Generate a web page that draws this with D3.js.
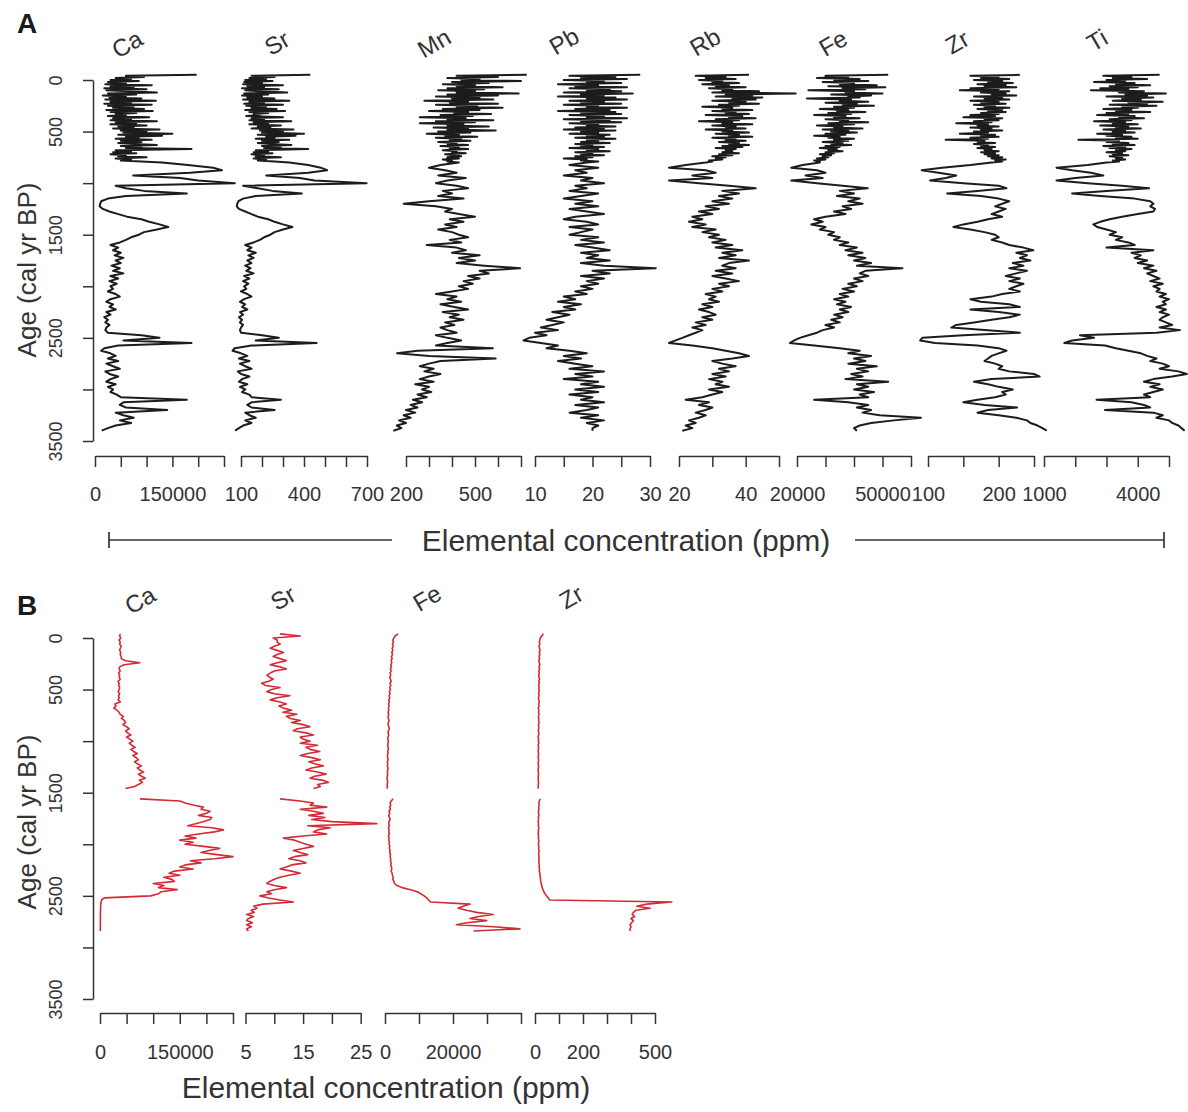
<!DOCTYPE html>
<html><head><meta charset="utf-8">
<script src="https://cdn.jsdelivr.net/npm/d3@7"></script>
<style>
body{margin:0;background:#fff}
text{font-family:"Liberation Sans",Arial,sans-serif;fill:#2a2a2a}
</style>
</head><body>
<svg id="chart" width="1188" height="1112"></svg>
<script>
// ---------------- DATA ----------------
const ageA=[-50,-40,-30,-20,-10,0,10,20,30,40,50,60,70,80,90,100,110,120,130,140,150,160,170,180,190,200,210,220,230,240,
250,260,270,280,290,300,310,320,330,340,350,360,370,380,390,400,410,420,430,440,450,460,470,480,490,500,510,520,530,540,
550,560,570,580,590,600,610,620,630,640,650,660,670,680,690,700,710,720,730,740,750,760,770,780,790,
800,825,850,875,900,925,950,975,1000,1025,1050,1075,1100,1125,1150,1175,1200,1225,1250,1275,1300,1325,1350,1375,1400,1425,1450,1475,1500,1525,
1550,1575,1600,1625,1650,1675,1700,1725,1750,1775,1800,1825,1850,1875,1900,1925,1950,1975,2000,2025,2050,2075,2100,2125,2150,2175,2200,2225,2250,2275,
2300,2325,2350,2375,2400,2425,2450,2475,2500,2525,2550,2575,2600,2625,2650,2675,2700,2725,2750,2775,2800,2825,2850,2875,2900,2925,2950,2975,3000,3025,
3050,3075,3100,3125,3150,3175,3200,3225,3250,3275,3300,3325,3350,3375,3400];

const caA=[197000,60000,95000,40000,70000,30000,85000,25000,60000,20000,
110000,30000,75000,18000,100000,22000,65000,120000,25000,80000,
15000,60000,28000,90000,20000,118000,30000,70000,18000,110000,
25000,75000,35000,95000,22000,112000,30000,80000,40000,60000,
25000,105000,35000,70000,30000,120000,40000,80000,30000,100000,
45000,75000,35000,125000,50000,100000,55000,150000,45000,130000,
60000,85000,40000,110000,50000,90000,45000,75000,120000,50000,
90000,60000,187000,40000,70000,35000,80000,30000,60000,45000,
100000,40000,70000,50000,90000,
130000,180000,229000,246000,184000,74000,165000,200000,271000,40000,
60000,95000,178000,60000,25000,12000,10000,9000,15000,28000,
45000,62000,90000,105000,125000,142000,120000,95000,85000,70000,
60000,48000,30000,45000,35000,50000,38000,55000,40000,50000,
32000,48000,35000,55000,30000,45000,28000,42000,30000,35000,
25000,40000,48000,30000,22000,35000,28000,40000,22000,30000,
18000,25000,20000,28000,22000,20000,25000,90000,125000,55000,
187000,45000,18000,12000,30000,40000,25000,45000,22000,35000,
48000,20000,28000,45000,30000,22000,40000,25000,35000,30000,
42000,50000,178000,55000,48000,60000,140000,40000,55000,75000,
48000,70000,40000,25000,13000];

const srA=[430,150,260,140,220,120,250,115,200,110,
300,130,210,105,280,120,190,320,115,230,
105,200,130,260,110,330,140,210,115,300,
125,220,150,270,120,310,140,230,160,190,
125,300,150,210,140,340,160,230,140,290,
180,240,150,350,190,300,200,400,180,360,
220,260,170,330,200,280,180,240,340,200,
290,210,420,170,230,160,250,150,210,170,
290,160,220,180,260,
330,420,480,510,420,220,380,450,698,110,
180,250,390,170,110,88,82,80,90,120,
150,180,230,260,300,345,300,260,240,210,
190,160,120,150,130,170,135,160,130,150,
120,145,125,160,115,140,110,135,115,125,
100,130,150,115,95,120,105,130,95,110,
90,105,95,110,100,95,100,200,280,170,
460,150,70,60,100,130,90,140,95,120,
150,85,100,140,105,90,130,95,120,105,
140,150,290,150,130,150,260,120,140,170,
120,150,110,90,72];

const mnA=[725,420,600,380,520,440,700,400,560,360,
500,420,620,380,540,340,500,420,690,380,
600,330,520,400,580,280,470,390,600,330,
510,420,620,360,520,300,470,410,570,350,
490,260,460,380,580,330,500,260,450,380,
560,320,470,380,590,340,480,290,430,370,
510,330,440,390,480,340,420,380,470,350,
430,390,470,360,420,400,460,370,410,440,
380,430,360,400,380,
430,350,300,370,420,340,460,380,330,420,
470,360,400,340,450,300,190,330,400,370,
430,500,390,450,370,420,340,400,430,470,
390,440,290,420,460,400,520,430,500,420,
540,696,520,560,470,520,450,490,430,470,
400,330,420,380,440,350,410,470,360,430,
390,450,370,410,350,380,420,330,380,440,
380,330,578,250,161,300,590,350,300,260,
320,280,350,300,260,320,240,300,270,310,
250,290,230,270,220,250,200,240,190,220,
170,200,160,180,145];

const pbA=[28.3,16,24,18,26,15,22,19,25,14,
21,17,26,16,23,19,25,15,27,18,
22,14,24,19,26,16,22,18,25,15,
21,19,26,17,23,14,24,18,25,16,
22,19,26,15,23,18,25,16,21,19,
24,17,22,15,24,18,21,16,23,19,
22,17,24,19,21,18,23,17,20,18,
22,16,21,19,23,17,20,18,22,17,
20,15,19,18,21,
19,16,21,17,19,15,20,18,22,17,
19,16,21,18,15,20,17,21,16,19,
22,17,15,19,21,16,20,18,16,21,
18,22,17,20,23,18,21,19,23,18,
22,31,20,23,18,22,19,21,18,20,
17,19,15,17,14,18,15,17,13,16,
14,12,15,13,11,14,10,12,9,8,
11,14,12,16,19,15,18,14,17,20,
16,22,17,20,15,21,18,22,17,21,
16,20,18,22,17,21,19,16,21,18,
22,19,21,20,20];

const rbA=[41,25,34,28,37,26,33,30,38,27,
35,31,40,29,36,33,44,30,55,34,
42,31,45,36,43,30,40,35,44,32,
38,27,36,33,42,30,37,34,41,28,
39,35,43,31,38,26,36,33,42,30,
37,34,40,28,36,33,41,31,38,35,
42,30,37,34,40,32,38,35,41,33,
39,31,37,34,36,33,38,32,36,30,
34,31,33,29,30,
28,22,17,28,31,24,30,17,26,35,
43,33,38,32,36,30,35,28,32,26,
30,24,27,23,28,24,31,27,32,29,
34,30,36,31,39,33,37,32,41,35,
33,37,31,36,30,34,38,32,35,30,
33,28,31,29,32,27,30,26,29,31,
27,30,25,28,24,27,25,23,21,19,
17,24,30,34,38,41,36,30,33,37,
32,35,30,34,29,33,31,35,29,33,
30,27,22,29,26,30,28,25,28,26,
23,25,22,24,21];

const feA=[52000,30000,38000,27000,42000,33000,45000,29000,40000,35000,
48000,31000,51000,36000,44000,24000,40000,37000,50000,32000,
46000,38000,42000,23500,39000,35000,45000,30000,41000,36000,
47000,33000,40000,28000,38000,34000,44000,31000,39000,26000,
37000,33000,42000,30000,38000,35000,45000,31000,40000,27000,
36000,33000,43000,29000,38000,32000,41000,30000,37000,26000,
35000,31000,40000,33000,38000,29000,36000,32000,39000,30000,
35000,28000,34000,31000,36000,30000,33000,28000,32000,29000,
31000,27000,30000,26000,28000,
28000,22000,18000,27000,30000,23000,29000,18000,27000,36000,
44800,35000,40000,34000,42000,38000,43000,36000,39000,33000,
37000,30000,26000,29000,25000,30000,28000,33000,31000,35000,
33000,38000,35000,41000,37000,43000,38000,44000,40000,46000,
41000,57000,44000,42000,45000,40000,43000,38000,41000,36000,
40000,35000,38000,33000,37000,34000,39000,35000,38000,33000,
36000,32000,35000,30000,33000,29000,27000,24000,21000,19000,
17500,26000,35000,42000,38000,46000,40000,44000,38000,48000,
41000,45000,39000,43000,37000,52000,41000,45000,40000,47000,
42000,45000,26000,38000,45000,41000,46000,43000,49000,63500,
54000,46000,42000,40000,41000];

const zrA=[230,160,200,175,215,165,205,185,220,170,
210,180,225,160,200,145,215,175,210,190,
225,165,205,180,215,160,200,175,210,165,
195,180,215,170,205,185,210,175,200,160,
195,150,205,180,200,165,190,140,185,170,
200,160,190,175,205,165,185,145,195,175,
200,160,185,125,180,170,195,165,185,175,
195,170,190,180,200,175,195,180,200,185,
205,190,210,195,205,
190,160,120,91,115,140,125,103,150,200,
211,170,127,175,200,215,205,195,210,200,
190,205,185,170,150,136,160,180,195,200,
190,205,215,235,249,225,240,230,245,220,
235,215,240,225,210,230,215,235,225,215,
230,205,190,160,175,215,230,160,200,230,
215,190,165,140,133,180,230,150,92,89,
110,170,200,211,200,190,185,180,195,205,
200,215,250,258,190,165,185,200,220,205,
210,195,170,150,180,226,185,170,200,225,
240,245,255,262,268];

const tiA=[4700,2900,3800,3200,4300,3000,3600,2600,3900,3300,
4400,3100,4000,2800,3700,2500,4200,3400,4900,3600,
4300,3000,4500,3500,4100,3200,4800,3700,4300,3100,
4600,3500,4000,2900,3800,3300,4400,3000,3700,2700,
3900,3400,4200,3100,3800,2600,3600,3200,4000,2800,
3700,3300,4100,2900,3600,3200,3900,2700,3500,3000,
3800,3300,4000,2100,3400,3000,3700,3200,3900,2900,
3600,3100,3800,3300,3600,3000,3500,3200,3700,3100,
3500,3300,3600,3200,3400,
3000,2400,1400,1900,2500,2900,2000,1400,2400,3500,
4360,3000,1900,2800,3900,4400,4500,4400,4550,4500,
4000,3500,3100,2800,2580,2700,3000,3300,3100,3500,
3300,3700,3900,3000,4500,3800,4100,3900,4300,4000,
4500,4200,4600,4300,4500,4700,4400,4800,4500,4700,
4600,4900,4700,5000,4800,4900,4600,4900,4700,5000,
4800,4700,4900,5100,4700,5350,4600,2150,2600,1900,
1650,2950,3300,3700,4100,4300,4600,4400,4800,5000,
4700,5300,5570,5100,4500,4200,4700,4400,4800,4500,
4200,4400,2680,3800,4200,4400,2950,4500,4800,4600,
5000,5100,5300,5400,5500];

const ageB=[-40,-20,0,20,40,60,80,100,120,140,
160,180,200,220,240,260,280,300,320,340,
360,380,400,420,440,460,480,500,520,540,
560,580,600,620,640,660,680,700,720,740,
760,780,800,820,840,860,880,900,920,940,
960,980,1000,1020,1040,1060,1080,1100,1120,1140,
1160,1180,1200,1220,1240,1260,1280,1300,1320,1340,
1360,1380,1400,1420,1440,1460,
1510,
1560,1580,1600,1620,1640,1660,1680,1700,1720,1740,
1760,1780,1800,1820,1840,1860,1880,1900,1920,1940,
1960,1980,2000,2020,2040,2060,2080,2100,2120,2140,
2160,2180,2200,2220,2240,2260,2280,2300,2320,2340,
2360,2380,2400,2420,2440,2460,2480,2500,2520,2540,
2560,2580,2600,2620,2640,2660,2680,2700,2720,2740,
2760,2780,2800,2820,2840];

const caB=[38000,37000,39000,36000,38000,37000,40000,38000,37000,39000,
38000,40000,40000,48000,75000,45000,37000,36000,38000,35000,
37000,36000,38000,34000,36000,35000,37000,36000,34000,37000,
35000,36000,34000,38000,28000,30000,26000,32000,36000,38000,
44000,40000,46000,48000,43000,50000,55000,48000,52000,58000,
50000,56000,62000,55000,60000,66000,58000,63000,70000,62000,
68000,72000,65000,70000,78000,70000,75000,82000,72000,78000,
85000,74000,80000,72000,65000,48000,
null,
75000,150000,160000,175000,194000,190000,207000,200000,185000,210000,
207000,195000,180000,165000,210000,232000,215000,185000,160000,180000,
150000,175000,160000,195000,225000,205000,190000,220000,250000,215000,
170000,190000,160000,150000,175000,140000,130000,150000,120000,135000,
140000,100000,120000,110000,145000,115000,110000,95000,8000,3000,
2000,1500,1200,1000,1000,800,800,800,700,800,
700,600,700,600,500];

const srB=[11.0,14.5,9.8,10.5,10.5,11.0,10.0,9.3,10.5,11.6,
10.5,9.8,11.0,12.1,10.5,9.3,11.0,12.1,10.0,9.3,
8.7,9.2,9.8,9.0,7.8,8.5,11.0,9.5,8.7,10.0,
12.7,10.5,9.3,11.0,12.1,10.8,11.6,13.0,11.5,13.9,
12.1,12.8,14.5,13.0,15.0,16.2,14.0,13.3,15.5,16.8,
14.5,15.0,16.2,14.5,17.5,15.5,16.2,17.9,15.8,14.5,
16.5,18.0,16.0,17.0,18.5,16.5,15.5,17.5,19.0,17.0,
16.2,18.5,19.4,17.5,18.0,16.8,
null,
11.0,14.5,16.8,16.2,19.1,14.5,16.8,18.5,16.0,18.8,
16.5,20.0,27.8,15.8,19.7,17.5,16.8,19.1,15.0,11.6,
13.5,14.5,15.5,16.8,15.0,13.3,14.5,15.8,13.5,12.5,
14.5,15.5,13.0,12.1,11.0,13.0,14.5,12.5,11.0,10.0,
9.2,8.7,10.0,12.1,10.0,8.7,9.5,7.5,9.0,11.0,
13.3,8.0,6.4,7.0,6.0,6.5,5.2,6.4,5.5,5.2,
6.2,5.2,6.0,5.2,5.5];

const feB=[3900,3000,2600,2300,2500,2200,2400,2100,2300,2000,
2200,1900,2100,1800,2000,1700,1900,1600,1800,1500,
1700,1400,1600,1800,1500,1700,1400,1600,1300,1500,
1200,1400,1100,1300,1000,1200,1000,1100,900,1100,
900,1000,1200,1000,900,1100,1300,1000,900,1100,
900,800,1000,900,800,900,1000,800,900,700,
800,900,700,800,700,900,800,700,800,700,
600,700,800,600,700,600,
null,
2400,1800,1500,1700,1400,1600,1200,1400,1100,1300,
1500,1200,1100,1300,1000,1200,1100,1300,1000,1200,
1100,1300,1200,1400,1300,1500,1400,1600,1500,1700,
1600,1800,1700,1900,2000,1800,2100,2200,2400,2300,
2600,2800,3500,5000,7500,9500,10500,11500,12300,12800,
13500,25000,23000,21500,24000,27000,31800,27500,25000,29900,
24000,21000,32000,39700,26000];

const zrB=[35,28,22,20,18,20,17,19,21,18,
20,17,19,16,18,20,17,19,16,18,
15,17,19,16,18,15,17,16,18,15,
17,14,16,18,15,17,14,16,15,17,
14,16,15,17,14,16,15,14,16,15,
13,15,14,16,13,15,14,13,15,14,
13,15,14,13,15,14,13,14,15,13,
14,13,15,14,13,14,
null,
22,18,16,17,15,16,14,15,16,14,
15,13,15,14,16,14,15,13,15,14,
16,15,14,16,15,17,16,15,17,16,
17,16,18,17,19,18,20,21,22,23,
24,26,28,30,33,37,42,48,55,62,
570,465,424,480,420,410,405,415,400,410,
402,396,400,396,396];

// tick values and tick labels
const ageTicks=[0,500,1000,1500,2000,2500,3000,3500];
const ageLabels=[0,500,1500,2500,3500];
const caTicks=[0,50000,100000,150000,200000,250000], caLabels=[0,150000];
const srTicksA=[100,200,300,400,500,600,700], srLabelsA=[100,400,700];
const mnTicks=[200,300,400,500,600,700], mnLabels=[200,500];
const pbTicks=[10,15,20,25,30], pbLabels=[10,20,30];
const rbTicks=[20,30,40,50], rbLabels=[20,40];
const feTicksA=[20000,30000,40000,50000,60000], feLabelsA=[20000,50000];
const zrTicksA=[100,150,200,250], zrLabelsA=[100,200];
const tiTicks=[1000,2000,3000,4000,5000], tiLabels=[1000,4000];
const srTicksB=[5,10,15,20,25], srLabelsB=[5,15,25];
const feTicksB=[0,10000,20000,30000,40000], feLabelsB=[0,20000];
const zrTicksB=[0,100,200,300,400,500], zrLabelsB=[0,200,500];
const elementsA=["Ca","Sr","Mn","Pb","Rb","Fe","Zr","Ti"];
const elementsB=["Ca","Sr","Fe","Zr"];
const xTitle="Elemental concentration (ppm)";
const yTitle="Age (cal yr BP)";

// ---------------- LAYOUT ----------------
const svg=d3.select("#chart");
const FONT='"Liberation Sans",Arial,sans-serif';

const panels=[
 {letter:"A", letterY:33, yTop:80, yBot:441, axisY:456, labelDy:45, yTitleY:270, color:"#1c1c1c", width:2,
  names:elementsA, ages:ageA,
  series:[caA,srA,mnA,pbA,rbA,feA,zrA,tiA],
  ticks:[caTicks,srTicksA,mnTicks,pbTicks,rbTicks,feTicksA,zrTicksA,tiTicks],
  labels:[caLabels,srLabelsA,mnLabels,pbLabels,rbLabels,feLabelsA,zrLabelsA,tiLabels],
  ranges:[[95,224],[241,367],[406,521],[535,650],[679,779],[797,911],[928,1034],[1044,1169]],
  titlePos:[[127,44],[277,43],[434,43],[564,41],[705,42],[833,43],[957,42],[1097,40]]},
 {letter:"B", letterY:615, yTop:638, yBot:999, axisY:1013, labelDy:46, yTitleY:822, color:"#d42a36", width:1.6,
  names:elementsB, ages:ageB,
  series:[caB,srB,feB,zrB],
  ticks:[caTicks,srTicksB,feTicksB,zrTicksB],
  labels:[caLabels,srLabelsB,feLabelsB,zrLabelsB],
  ranges:[[100,233],[245.5,360.7],[385,521],[535,655]],
  titlePos:[[140,600],[283,598],[427,598],[571,597]]}
];

panels.forEach(P=>{
  const y=d3.scaleLinear().domain([0,3500]).range([P.yTop,P.yBot]);
  svg.append("text").attr("x",17).attr("y",P.letterY).text(P.letter)
    .style("font-size","28px").style("font-weight","bold").style("fill","#1a1a1a");
  const gy=svg.append("g").attr("transform","translate(93,0)")
    .call(d3.axisLeft(y).tickValues(ageTicks).tickSize(10).tickSizeOuter(0)
      .tickFormat(d=>ageLabels.includes(d)?String(d):""));
  gy.selectAll("text").attr("x",null).attr("dy",null)
    .attr("transform","translate(-31,0) rotate(-90)").attr("text-anchor","middle")
    .style("font-size","18px").style("font-family",FONT).style("fill","#333");
  gy.selectAll("path,line").attr("stroke","#333").attr("stroke-width",1.5);
  svg.append("text").attr("transform",`translate(36,${P.yTitleY}) rotate(-90)`)
    .attr("text-anchor","middle").text(yTitle).style("font-size","26px").style("fill","#333");

  P.names.forEach((name,i)=>{
    const t=P.ticks[i];
    const x=d3.scaleLinear().domain([t[0],t[t.length-1]]).range(P.ranges[i]);
    const gx=svg.append("g").attr("transform",`translate(0,${P.axisY})`)
      .call(d3.axisBottom(x).tickValues(t).tickSize(11).tickSizeOuter(0)
        .tickFormat(d=>P.labels[i].includes(d)?String(d):""));
    gx.selectAll("text").attr("y",P.labelDy).attr("dy",null)
      .style("font-size","20px").style("font-family",FONT).style("fill","#333");
    gx.selectAll("path,line").attr("stroke","#333").attr("stroke-width",1.5);
    const tp=P.titlePos[i];
    svg.append("text").attr("transform",`translate(${tp[0]},${tp[1]}) rotate(-30)`)
      .attr("text-anchor","middle").attr("dominant-baseline","central")
      .text(name).style("font-size","24px").style("fill","#333");
    const vals=P.series[i];
    const pts=P.ages.map((a,k)=>[a,vals[k]]).filter(d=>d[1]!==undefined);
    const line=d3.line().defined(d=>d[1]!==null).x(d=>x(d[1])).y(d=>y(d[0]));
    svg.append("path").datum(pts).attr("d",line).attr("fill","none")
      .attr("stroke",P.color).attr("stroke-width",P.width).attr("stroke-linejoin","round");
  });
});

// A: bracketed axis title
const bY=540;
const gb=svg.append("g").attr("stroke","#333").attr("stroke-width",1.7);
gb.append("line").attr("x1",109).attr("x2",392).attr("y1",bY).attr("y2",bY);
gb.append("line").attr("x1",109).attr("x2",109).attr("y1",bY-8).attr("y2",bY+8);
gb.append("line").attr("x1",855).attr("x2",1164).attr("y1",bY).attr("y2",bY);
gb.append("line").attr("x1",1164).attr("x2",1164).attr("y1",bY-8).attr("y2",bY+8);
svg.append("text").attr("x",626).attr("y",bY+11).attr("text-anchor","middle")
  .text(xTitle).style("font-size","30px").style("fill","#333");
svg.append("text").attr("x",386).attr("y",1098).attr("text-anchor","middle")
  .text(xTitle).style("font-size","30px").style("fill","#333");
</script>
</body></html>
